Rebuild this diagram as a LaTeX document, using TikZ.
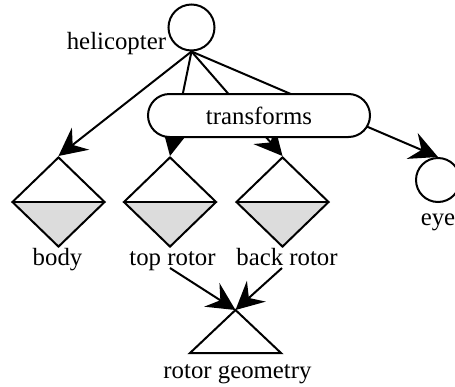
\documentclass[tikz,border=0pt]{standalone}
\usepackage{fontspec}
\setmainfont{Liberation Serif}
\usetikzlibrary{shapes.geometric,shapes.misc,arrows.meta}
\definecolor{sepfill}{RGB}{220,220,220}
\begin{document}
\begin{tikzpicture}[x=0.5pt,y=-0.5pt,line width=1pt,
  every node/.style={font=\fontsize{12.4pt}{14pt}\selectfont},
  group/.style={circle,draw,minimum size=23pt,inner sep=0pt},
  sepbox/.style={diamond,draw,minimum width=46.5pt,minimum height=45pt,inner sep=0pt,
    path picture={
      \fill[sepfill] (path picture bounding box.west) -- (path picture bounding box.east)
        -- (path picture bounding box.south) -- cycle;
      \draw (path picture bounding box.west) -- (path picture bounding box.east);}},
  lbl/.style={anchor=base,inner sep=0pt},
  link/.style={-{Stealth[length=14pt,width=14pt,inset=5pt]}},
  xform/.style={rounded rectangle,draw,fill=white,minimum width=111pt,minimum height=21.5pt,inner sep=0pt}
]
\useasboundingbox (0,0) rectangle (455,386);

% scene graph nodes
\node[group] (heli) at (191.5,27.5) {};
\node[lbl,anchor=base east] (helil) at (167,49) {helicopter};

\node[sepbox] (body) at (58.5,202) {};
\node[sepbox] (top) at (170,202) {};
\node[sepbox] (back) at (282.5,202) {};
\node[group,minimum size=22pt] (eye) at (438,180) {};

\node[lbl] (bodyl) at (57.5,265) {body};
\node[lbl] (topl) at (172.5,265) {top rotor};
\node[lbl] (backl) at (287,265) {back rotor};
\node[lbl] (eyel) at (438,225) {eye};

% shared rotor geometry
\coordinate (geo) at (235.5,310);
\draw (geo) -- ++(-45.5,43) -- ++(91,0) -- cycle;
\node[lbl] (geol) at (237.5,378) {rotor geometry};

% children of the helicopter group
\draw[link] (heli.south) -- (body.north);
\draw[link] (heli.south) -- (top.north);
\draw[link] (heli.south) -- (back.north);
\draw[link] (heli.south) -- (eye.north);

% the transforms box sits over the links
\node[xform] (xf) at (259,115.5) {transforms};

% both rotors share one geometry
\coordinate (topout) at (170,268);
\coordinate (backout) at (282,268);
\draw[link] (topout) -- (geo);
\draw[link] (backout) -- (geo);
\end{tikzpicture}
\end{document}
